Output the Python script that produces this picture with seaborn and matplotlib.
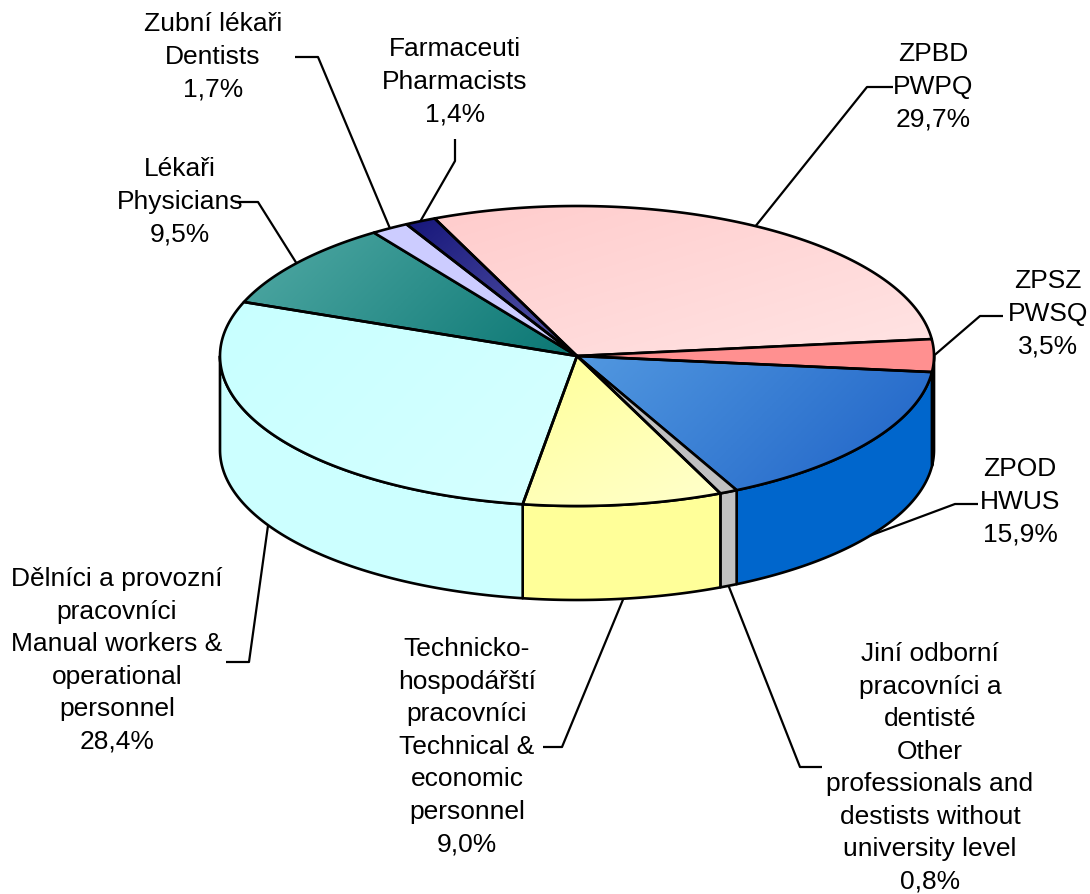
import numpy as np
import matplotlib
matplotlib.use("Agg")
import matplotlib.pyplot as plt
from matplotlib.patches import Polygon
import seaborn as sns

# Data, clockwise from the top
names_cz = ["ZPBD", "ZPSZ", "ZPOD", "Jiní odborní\npracovníci a\ndentisté",
            "Technicko-\nhospodářští\npracovníci", "Dělníci a provozní\npracovníci",
            "Lékaři", "Zubní lékaři", "Farmaceuti"]
names_en = ["PWPQ", "PWSQ", "HWUS", "Other\nprofessionals and\ndestists without\nuniversity level",
            "Technical &\neconomic\npersonnel", "Manual workers &\noperational\npersonnel",
            "Physicians", "Dentists", "Pharmacists"]
shares = [29.7, 3.5, 15.9, 0.8, 9.0, 28.4, 9.5, 1.7, 1.4]

# top face colours (start, end of gradient), side colours
top_colors = [("#FFCCCC", "#FFE4E4"), ("#FF9090", "#FF9090"), ("#5298E0", "#1E62C6"),
              ("#C0C0C0", "#C0C0C0"), ("#FFFF99", "#FFFFCC"), ("#C8FFFF", "#D6FFFF"),
              ("#52AAA5", "#0A7673"), ("#CCCCFF", "#CCCCFF"), ("#16167A", "#5A5AAA")]
grad_dirs = [(0.3, 1), (1, 0), (1, 1), (1, 0), (0.5, 1), (1, 1), (1, 1), (1, 0), (1, 1.2)]
side_colors = ["#FF9999", "#FF9090", "#0066CC", "#C0C0C0", "#FFFF99", "#CCFFFF",
               "#0A7673", "#CCCCFF", "#1A1A80"]

# label layout (centre x, first line centre y) and leader elbow points
label_pos = [(933, 55), (1048, 282), (1020, 470), (930, 655), (467, 650), (117, 580),
             (180, 170), (213, 25), (455, 50)]
elbows = [[(893, 88), (867, 88)], [(1003, 317), (980, 317)], [(978, 505), (955, 505)],
          [(822, 768), (800, 768)], [(543, 748), (562, 748)], [(226, 663), (249, 663)],
          [(235, 203), (258, 203)], [(295, 58), (318, 58)], [(455, 140), (455, 162)]]

sns.set_theme(style="white")
plt.rcParams["font.family"] = ["Liberation Sans", "DejaVu Sans"]

cx, cy, rx, ry, depth = 577, 357, 357, 150, 94
start_angle = 113.5
lw = 1.9


def pt(a, dz=0.0):
    r = np.radians(a)
    return cx + rx * np.cos(r), cy - ry * np.sin(r) + dz


def arc(a1, a2, dz=0.0, n=None):
    n = n or max(int(abs(a1 - a2) * 2), 3)
    aa = np.linspace(a1, a2, n)
    r = np.radians(aa)
    return np.column_stack([cx + rx * np.cos(r), cy - ry * np.sin(r) + dz])


fig = plt.figure(figsize=(10.9, 8.95), dpi=100)
ax = fig.add_axes([0, 0, 1, 1])

total = sum(shares)
spans = [v / total * 360 for v in shares]
bounds = []
a = start_angle
for s in spans:
    bounds.append((a, a - s))
    a -= s

# side walls (front half only)
for i, (a1, a2) in enumerate(bounds):
    for k in range(-2, 2):
        lo = max(a2, -180 + 360 * k)
        hi = min(a1, 360 * k)
        if hi > lo:
            top = arc(hi, lo)
            bot = arc(lo, hi, dz=depth)
            ax.add_patch(Polygon(np.vstack([top, bot]), closed=True, facecolor=side_colors[i],
                                 edgecolor="black", lw=lw, joinstyle="round", zorder=2))

# top faces with gradients
for i, (a1, a2) in enumerate(bounds):
    poly = np.vstack([[cx, cy], arc(a1, a2)])
    c1, c2 = top_colors[i]
    if c1 == c2:
        ax.add_patch(Polygon(poly, closed=True, facecolor=c1, edgecolor="black", lw=lw,
                             joinstyle="round", zorder=4))
        continue
    patch = Polygon(poly, closed=True, facecolor="none", edgecolor="black", lw=lw,
                    joinstyle="round", zorder=4)
    ax.add_patch(patch)
    x0, y0 = poly.min(axis=0)
    x1, y1 = poly.max(axis=0)
    xx, yy = np.meshgrid(np.linspace(x0, x1, 200), np.linspace(y0, y1, 200))
    dx, dy = grad_dirs[i]
    proj = (xx - x0) * dx + (yy - y0) * dy
    proj = (proj - proj.min()) / (proj.max() - proj.min())
    cmap = sns.blend_palette([c1, c2], as_cmap=True)
    im = ax.imshow(proj, cmap=cmap, extent=(x0, x1, y1, y0), origin="upper",
                   aspect="auto", zorder=3, interpolation="bilinear")
    im.set_clip_path(patch)

# labels and leader lines
for i, (a1, a2) in enumerate(bounds):
    mid = (a1 + a2) / 2
    if np.sin(np.radians(mid)) < -0.1:
        anchor = pt(mid, depth)
    else:
        anchor = pt(mid)
    e1, e2 = elbows[i]
    ax.plot([e1[0], e2[0], anchor[0]], [e1[1], e2[1], anchor[1]], color="black",
            lw=1.6, zorder=1, solid_capstyle="butt")
    pct = f"{shares[i]:.1f}".replace(".", ",") + "%"
    text = f"{names_cz[i]}\n{names_en[i]}\n{pct}"
    lx, ly = label_pos[i]
    ax.text(lx, ly - 13, text, ha="center", va="top", fontsize=19, linespacing=1.45,
            color="black", zorder=5)

ax.set_xlim(0, 1090)
ax.set_ylim(895, 0)
ax.axis("off")
fig.savefig("out.png", dpi=100, facecolor="white")
